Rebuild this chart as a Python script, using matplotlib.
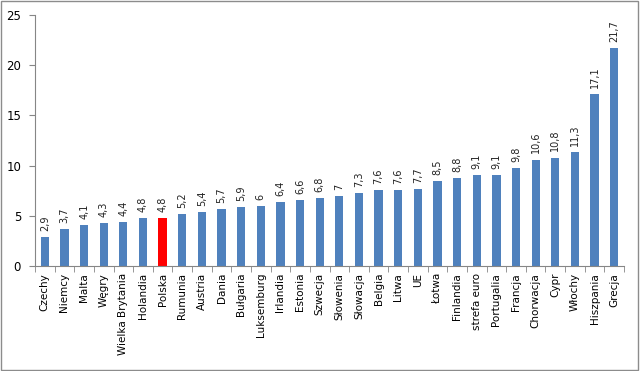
import matplotlib
matplotlib.use("Agg")
import matplotlib.pyplot as plt
from matplotlib.patches import Rectangle
import numpy as np

categories = ["Czechy", "Niemcy", "Malta", "Węgry", "Wielka Brytania", "Holandia", "Polska",
              "Rumunia", "Austria", "Dania", "Bułgaria", "Luksemburg", "Irlandia", "Estonia",
              "Szwecja", "Słowenia", "Słowacja", "Belgia", "Litwa", "UE", "Łotwa", "Finlandia",
              "strefa euro", "Portugalia", "Francja", "Chorwacja", "Cypr", "Włochy", "Hiszpania", "Grecja"]
values = [2.9, 3.7, 4.1, 4.3, 4.4, 4.8, 4.8, 5.2, 5.4, 5.7, 5.9, 6.0, 6.4, 6.6, 6.8, 7.0, 7.3,
          7.6, 7.6, 7.7, 8.5, 8.8, 9.1, 9.1, 9.8, 10.6, 10.8, 11.3, 17.1, 21.7]
value_labels = ["2,9", "3,7", "4,1", "4,3", "4,4", "4,8", "4,8", "5,2", "5,4", "5,7", "5,9", "6",
                "6,4", "6,6", "6,8", "7", "7,3", "7,6", "7,6", "7,7", "8,5", "8,8", "9,1", "9,1",
                "9,8", "10,6", "10,8", "11,3", "17,1", "21,7"]
highlight = "Polska"

fig = plt.figure(figsize=(6.4, 3.71), dpi=100)
fig.patches.append(Rectangle((0.002, 0.003), 0.995, 0.993, transform=fig.transFigure,
                             fill=False, edgecolor="#8c8c8c", linewidth=1.0))
ax = fig.add_axes([0.0547, 0.283, 0.9203, 0.677])

x = np.arange(len(categories))
colors = ["#FF0000" if c == highlight else "#4F81BD" for c in categories]
bars = ax.bar(x, values, width=0.42, color=colors, edgecolor="none")

for xi, v, lab in zip(x, values, value_labels):
    ax.text(xi, v + 0.6, lab, rotation=90, ha="center", va="bottom", fontsize=7, color="#222222")

ax.set_xlim(-0.5, len(categories) - 0.5)
ax.set_ylim(0, 25)
ax.set_yticks([0, 5, 10, 15, 20, 25])
ax.set_xticks(x)
ax.set_xticklabels(categories, rotation=90, fontsize=7.5)
ax.set_xticks(np.arange(-0.5, len(categories), 1), minor=True)
ax.tick_params(axis="x", which="major", length=0, pad=5)
ax.tick_params(axis="x", which="minor", length=4, color="#868686", direction="out")
ax.tick_params(axis="y", length=4, color="#868686", labelsize=8.5, pad=6)

for s in ["top", "right"]:
    ax.spines[s].set_visible(False)
for s in ["left", "bottom"]:
    ax.spines[s].set_color("#868686")

fig.savefig("out.png", dpi=100)
